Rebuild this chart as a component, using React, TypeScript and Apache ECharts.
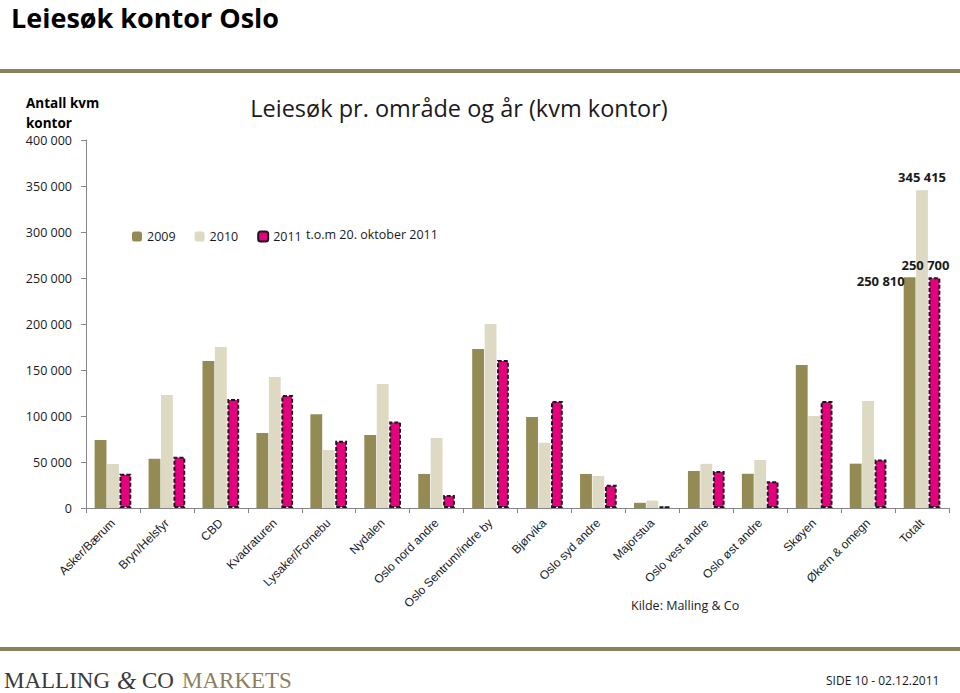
import React, { useEffect, useRef } from "react";
import * as echarts from "echarts";

const categories = [
  "Asker/Bærum", "Bryn/Helsfyr", "CBD", "Kvadraturen", "Lysaker/Fornebu", "Nydalen",
  "Oslo nord andre", "Oslo Sentrum/indre by", "Bjørvika", "Oslo syd andre", "Majorstua",
  "Oslo vest andre", "Oslo øst andre", "Skøyen", "Økern & omegn", "Totalt",
];
const values2009 = [73900, 53500, 159800, 81500, 102000, 79300, 37000, 172800, 98900, 37000, 5600, 40200, 37200, 155400, 48200, 250810];
const values2010 = [47800, 122800, 175000, 142400, 63000, 134800, 76200, 200000, 70800, 34800, 8100, 48000, 52100, 100000, 116300, 345415];
const values2011 = [37200, 55800, 118500, 122800, 73000, 94000, 14100, 160900, 116300, 25200, 1400, 40200, 29100, 116300, 52800, 250700];
const yTicks = [0, 50000, 100000, 150000, 200000, 250000, 300000, 350000, 400000];

const fmt = (v: number) => String(v).replace(/\B(?=(\d{3})+(?!\d))/g, " ");
const FONT = "'Open Sans', 'Noto Sans', sans-serif";
const SERIF = "'Liberation Serif', 'DejaVu Serif', serif";
const BROWN = "#8c7f5c";

export default function App() {
  const ref = useRef<HTMLDivElement>(null);
  useEffect(() => {
    if (!ref.current) return;
    const chart = echarts.init(ref.current, null, { renderer: "svg" });
    const last = categories.length - 1;
    const boldLabel = { fontFamily: FONT, fontWeight: "bold", fontSize: 13, color: "#1a1a1a" };
    chart.setOption({
      animation: false,
      backgroundColor: "#ffffff",
      title: [
        {
          text: "Leiesøk pr. område og år (kvm kontor)",
          left: 454, top: 91, textAlign: "center",
          textStyle: { fontFamily: FONT, fontSize: 23.5, fontWeight: "normal", color: "#1a1a1a" },
        },
      ],
      legend: {
        left: 127, top: 225, itemWidth: 10, itemHeight: 10, itemGap: 19,
        textStyle: { fontFamily: FONT, fontSize: 12.5, color: "#1a1a1a" },
        data: ["2009", "2010", "2011"],
      },
      grid: { left: 86, right: 11, top: 140, bottom: 185, containLabel: false },
      xAxis: {
        type: "category",
        data: categories,
        axisLine: { lineStyle: { color: "#868686", width: 1 } },
        axisTick: { show: true, inside: false, length: 5, lineStyle: { color: "#868686" } },
        axisLabel: {
          rotate: 45, interval: 0, fontFamily: "'Liberation Sans', Arial, sans-serif",
          fontSize: 12, color: "#1a1a1a", margin: 13,
        },
      },
      yAxis: {
        type: "value",
        min: 0, max: 400000, interval: 50000,
        axisLine: { show: true, lineStyle: { color: "#868686" } },
        axisTick: { show: true, length: 5, lineStyle: { color: "#868686" } },
        splitLine: { show: false },
        axisLabel: {
          fontFamily: FONT, fontSize: 12.5, color: "#1a1a1a", margin: 14,
          formatter: (v: number) => (yTicks.includes(v) ? fmt(v) : ""),
        },
      },
      series: [
        {
          name: "2009", type: "bar", barGap: "5%", barCategoryGap: "32%",
          itemStyle: { color: "#948a54" },
          data: values2009.map((v, i) =>
            i === last
              ? {
                  value: v,
                  label: {
                    show: true, position: [1, 4], align: "right", verticalAlign: "middle",
                    formatter: (p: any) => fmt(p.value), ...boldLabel,
                  },
                }
              : v
          ),
        },
        {
          name: "2010", type: "bar", barGap: "5%", barCategoryGap: "32%",
          itemStyle: { color: "#ddd9c3" },
          data: values2010.map((v, i) =>
            i === last
              ? {
                  value: v,
                  label: { show: true, position: "top", distance: 7, formatter: (p: any) => fmt(p.value), ...boldLabel },
                }
              : v
          ),
        },
        {
          name: "2011", type: "bar", barGap: "5%", barCategoryGap: "32%",
          itemStyle: { color: "#e5007d", borderColor: "#1a1a1a", borderWidth: 2, borderType: [4, 2] },
          data: values2011.map((v, i) =>
            i === last
              ? {
                  value: v,
                  label: {
                    show: true, position: "top", distance: 6, offset: [-9, 0],
                    formatter: (p: any) => fmt(p.value), ...boldLabel,
                  },
                }
              : v
          ),
        },
      ],
      graphic: [
        {
          type: "text", x: 11, y: 17,
          style: { text: "Leiesøk kontor Oslo", font: `bold 27px ${FONT}`, lineHeight: 28, fill: "#000000", verticalAlign: "middle" },
        },
        { type: "rect", shape: { x: 0, y: 69, width: 960, height: 4 }, style: { fill: BROWN } },
        {
          type: "text", x: 26, y: 93,
          style: { text: "Antall kvm\nkontor", font: `bold 13.5px ${FONT}`, fill: "#000000", lineHeight: 20 },
        },
        {
          type: "text", x: 306, y: 234,
          style: { text: "t.o.m 20. oktober 2011", font: `12.5px ${FONT}`, fill: "#1a1a1a", verticalAlign: "middle" },
        },
        {
          type: "text", x: 631, y: 605,
          style: { text: "Kilde: Malling & Co", font: `12.5px ${FONT}`, fill: "#1a1a1a", verticalAlign: "middle" },
        },
        { type: "rect", shape: { x: 0, y: 647, width: 960, height: 4 }, style: { fill: BROWN } },
        {
          type: "text", x: 4, y: 680,
          style: { text: "MALLING", font: `23px ${SERIF}`, fill: "#3a3a3a", verticalAlign: "middle" },
        },
        {
          type: "text", x: 117, y: 680,
          style: { text: "&", font: `italic 25px ${SERIF}`, fill: "#3a3a3a", verticalAlign: "middle" },
        },
        {
          type: "text", x: 142, y: 680,
          style: { text: "CO", font: `23px ${SERIF}`, fill: "#3a3a3a", verticalAlign: "middle" },
        },
        {
          type: "text", x: 182, y: 680,
          style: { text: "MARKETS", font: `23px ${SERIF}`, fill: BROWN, verticalAlign: "middle" },
        },
        {
          type: "text", x: 826, y: 680,
          style: { text: "SIDE 10 - 02.12.2011", font: `12px 'Liberation Sans Narrow', ${FONT}`, fill: "#1a1a1a", verticalAlign: "middle" },
        },
      ],
    });
    return () => chart.dispose();
  }, []);
  return <div ref={ref} style={{ position: "absolute", left: 0, top: 0, width: 960, height: 693 }} />;
}
